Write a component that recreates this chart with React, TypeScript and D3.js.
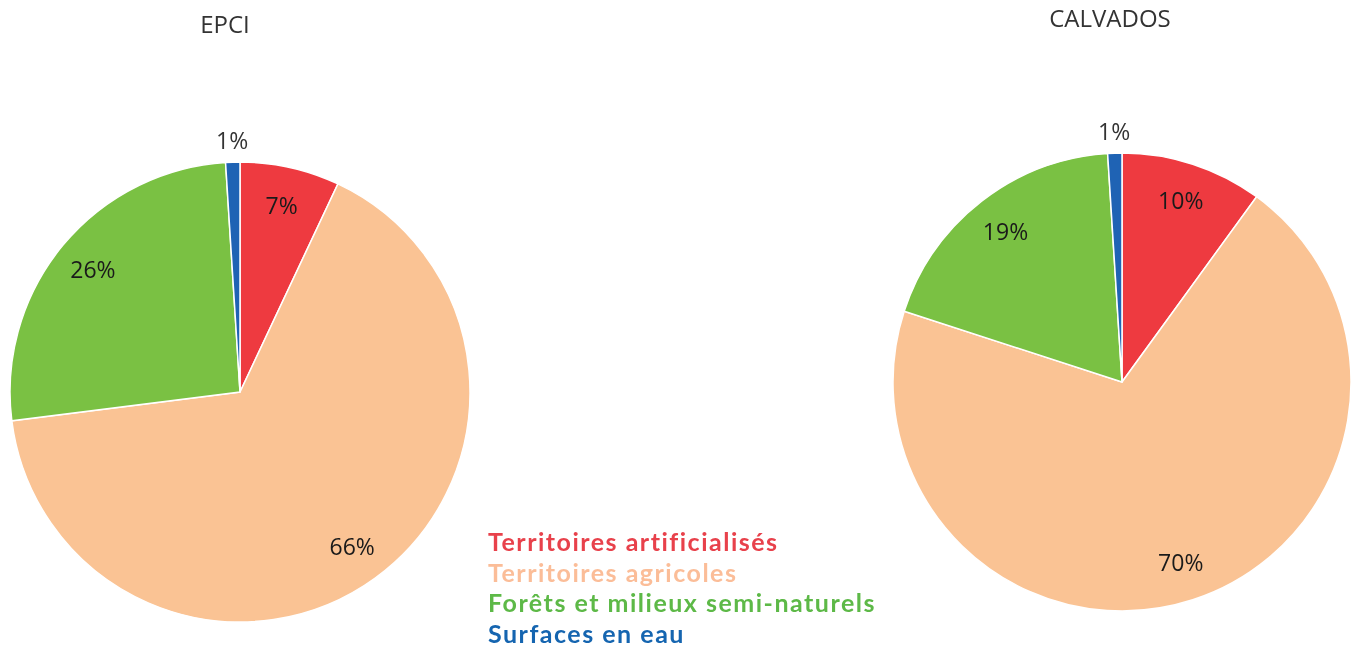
import React, { useRef, useEffect } from 'react';
import * as d3 from 'd3';

const categories = [
  'Territoires artificialisés',
  'Territoires agricoles',
  'Forêts et milieux semi-naturels',
  'Surfaces en eau'
];
const epciValues = [7, 66, 26, 1];
const calvadosValues = [10, 70, 19, 1];
const sliceColors = ['#EE3A40', '#FAC394', '#7AC143', '#1F63B4'];
const legendColors = ['#E8414B', '#FBBD98', '#5DB947', '#1565B0'];

const App: React.FC = () => {
  const ref = useRef<SVGSVGElement | null>(null);

  useEffect(() => {
    const svg = d3.select(ref.current);
    svg.selectAll('*').remove();
    const width = 1357;
    const height = 650;
    svg.attr('width', width).attr('height', height);

    const pies = [
      { title: 'EPCI', values: epciValues, cx: 240, cy: 392, r: 230, tx: 225, ty: 33 },
      { title: 'CALVADOS', values: calvadosValues, cx: 1122, cy: 382, r: 229, tx: 1110, ty: 27 }
    ];

    const pie = d3.pie<number>().sort(null).value((d) => d);

    pies.forEach((p) => {
      const g = svg.append('g').attr('transform', `translate(${p.cx},${p.cy})`);
      const arc = d3.arc<d3.PieArcDatum<number>>().innerRadius(0).outerRadius(p.r);
      const labelArc = d3.arc<d3.PieArcDatum<number>>()
        .innerRadius(p.r * 0.83).outerRadius(p.r * 0.83);
      const outerArc = d3.arc<d3.PieArcDatum<number>>()
        .innerRadius(p.r + 21).outerRadius(p.r + 21);
      const arcs = pie(p.values);

      g.selectAll('path.slice')
        .data(arcs)
        .enter()
        .append('path')
        .attr('class', 'slice')
        .attr('d', arc)
        .attr('fill', (_, i) => sliceColors[i])
        .attr('stroke', '#fff')
        .attr('stroke-width', 1.5);

      g.selectAll('text.lbl')
        .data(arcs)
        .enter()
        .append('text')
        .attr('class', 'lbl')
        .attr('transform', (d) => {
          const c = d.data <= 2 ? outerArc.centroid(d) : labelArc.centroid(d);
          return `translate(${c[0]},${c[1]})`;
        })
        .attr('text-anchor', 'middle')
        .attr('dy', '0.35em')
        .attr('font-family', 'Open Sans, sans-serif')
        .attr('font-size', 23)
        .attr('fill', (d) => (d.data <= 2 ? '#333' : '#1a1a1a'))
        .text((d) => `${d.data}%`);

      svg.append('text')
        .attr('x', p.tx)
        .attr('y', p.ty)
        .attr('text-anchor', 'middle')
        .attr('font-family', 'Open Sans, sans-serif')
        .attr('font-size', 24)
        .attr('fill', '#333')
        .text(p.title);
    });

    // Lato has a tighter line box, so the stacked legend rows don't collide
    const legend = svg.append('g').attr('transform', 'translate(488,0)');
    legend.selectAll('text')
      .data(categories)
      .enter()
      .append('text')
      .attr('x', 0)
      .attr('y', (_, i) => 551 + i * 30.5)
      .attr('font-family', 'Lato, sans-serif')
      .attr('font-weight', 700)
      .attr('font-size', 25)
      .attr('letter-spacing', 1.5)
      .attr('fill', (_, i) => legendColors[i])
      .text((d) => d);
  }, []);

  return (
    <div style={{ position: 'fixed', top: 0, left: 0, width: 1357, height: 650, overflow: 'hidden' }}>
      <svg ref={ref} style={{ display: 'block' }} />
    </div>
  );
};

export default App;
